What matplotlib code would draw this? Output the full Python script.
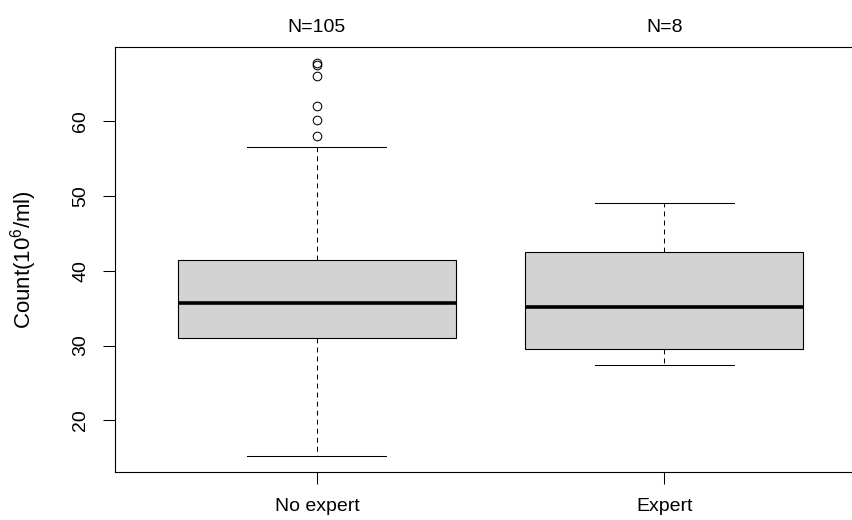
import matplotlib
matplotlib.use("Agg")
import matplotlib.pyplot as plt

plt.rcParams['font.family'] = ['Liberation Sans', 'DejaVu Sans']
plt.rcParams['mathtext.fontset'] = 'custom'
plt.rcParams['mathtext.rm'] = 'Liberation Sans'
plt.rcParams['lines.scale_dashes'] = False

# values
groups = ["No expert", "Expert"]
counts = [105, 8]
whis_lo = [15.2, 27.45]
q1 = [31.05, 29.6]
medians = [35.75, 35.15]
q3 = [41.45, 42.5]
whis_hi = [56.5, 49.1]
outliers = [[58.0, 60.2, 62.0, 66.0, 67.5, 67.8], []]
y_ticks = [20, 30, 40, 50, 60]


def main():
    stats = []
    for i, name in enumerate(groups):
        stats.append(dict(label=name, whislo=whis_lo[i], q1=q1[i], med=medians[i],
                          q3=q3[i], whishi=whis_hi[i], fliers=outliers[i]))

    fig = plt.figure(figsize=(8.53, 5.20), dpi=100)
    # plot frame runs off the right edge, like the reference
    ax = fig.add_axes([0.1352, 0.0923, 0.880, 0.8173])

    ax.bxp(stats, positions=[1, 2], widths=0.8, patch_artist=True,
           boxprops=dict(facecolor='#d3d3d3', edgecolor='black', linewidth=0.8),
           medianprops=dict(color='black', linewidth=2.6, solid_capstyle='butt'),
           whiskerprops=dict(color='black', linewidth=0.75, linestyle=(0, (3.5, 3))),
           capprops=dict(color='black', linewidth=0.75),
           capwidths=0.4,
           flierprops=dict(marker='o', markerfacecolor='none', markeredgecolor='black',
                           markersize=6.2, markeredgewidth=0.75))

    # R style 4% padding on both axes
    lo = min(whis_lo + [v for o in outliers for v in o])
    hi = max(whis_hi + [v for o in outliers for v in o])
    pad = (hi - lo) * 0.04
    ax.set_ylim(lo - pad, hi + pad)
    ax.set_xlim(0.5 - 0.08, 2.5 + 0.08)

    ax.set_yticks(y_ticks)
    ax.set_xticks([1, 2])
    ax.set_xticklabels(groups)
    ax.tick_params(axis='y', length=8.3, width=0.75, pad=10.5, labelsize=14,
                   labelrotation=90)
    for lab in ax.get_yticklabels():
        lab.set_va('center')
    ax.tick_params(axis='x', length=8.3, width=0.75, pad=10.5, labelsize=14)
    for sp in ax.spines.values():
        sp.set_linewidth(0.8)

    for i, n in enumerate(counts):
        ax.text(i + 1, 1.047, f"N={n}", transform=ax.get_xaxis_transform(),
                ha='center', va='center', fontsize=14)

    fig.text(24 / 853, 1 - 260 / 520, r'Count(10$^{6}$/ml)', rotation=90,
             ha='center', va='center', fontsize=16)

    fig.savefig("out.png", dpi=100)


if __name__ == '__main__':
    main()
